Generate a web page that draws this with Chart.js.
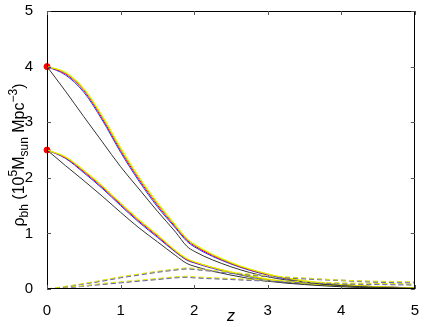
<!DOCTYPE html>
<html>
<head>
<meta charset="utf-8">
<script src="https://cdn.jsdelivr.net/npm/chart.js@4.4.1/dist/chart.umd.min.js"></script>
<style>
    html, body { margin: 0; padding: 0; background: #ffffff; }
    #wrap { width: 425px; height: 327px; position: relative; }
</style>
</head>
<body>
<div id="wrap"><canvas id="rho-chart"></canvas></div>
<script>
// redshift grid the curves are read at
const zs = [0, 0.25, 0.5, 0.75, 1, 1.25, 1.5, 1.75, 1.9, 2, 2.5, 3, 3.5, 4, 4.5, 5];

// upper family (rho = 4 at z = 0)
const upYellow = [4.0, 3.90, 3.61, 3.12, 2.55, 2.02, 1.56, 1.15, 0.91, 0.81, 0.48, 0.27, 0.15, 0.08, 0.04, 0.02];
const upGreen  = [4.0, 3.89, 3.59, 3.10, 2.52, 2.00, 1.54, 1.13, 0.90, 0.80, 0.47, 0.27, 0.14, 0.08, 0.04, 0.02];
const upRed    = [4.0, 3.87, 3.57, 3.07, 2.49, 1.97, 1.51, 1.11, 0.88, 0.78, 0.46, 0.26, 0.14, 0.08, 0.04, 0.02];
const upBlue   = [4.0, 3.85, 3.54, 3.04, 2.46, 1.94, 1.48, 1.09, 0.86, 0.76, 0.45, 0.25, 0.13, 0.07, 0.04, 0.02];
const upBlack  = [4.0, 3.56, 3.10, 2.65, 2.20, 1.80, 1.40, 1.02, 0.77, 0.68, 0.40, 0.22, 0.12, 0.06, 0.03, 0.01];

// lower family (rho = 2.5 at z = 0)
const loYellow = [2.5, 2.38, 2.14, 1.86, 1.55, 1.25, 0.98, 0.69, 0.55, 0.49, 0.31, 0.18, 0.10, 0.05, 0.03, 0.01];
const loGreen  = [2.5, 2.37, 2.13, 1.85, 1.54, 1.24, 0.97, 0.68, 0.54, 0.49, 0.30, 0.17, 0.10, 0.05, 0.03, 0.01];
const loRed    = [2.5, 2.36, 2.11, 1.83, 1.52, 1.22, 0.95, 0.67, 0.53, 0.48, 0.30, 0.17, 0.10, 0.05, 0.03, 0.01];
const loBlue   = [2.5, 2.35, 2.09, 1.81, 1.50, 1.20, 0.93, 0.66, 0.52, 0.47, 0.29, 0.16, 0.09, 0.05, 0.02, 0.01];
const loBlack  = [2.5, 2.22, 1.95, 1.67, 1.38, 1.10, 0.85, 0.60, 0.46, 0.41, 0.25, 0.14, 0.08, 0.04, 0.02, 0.01];

// dashed curves
const dashUpYellow = [0, 0.05, 0.10, 0.16, 0.22, 0.27, 0.32, 0.36, 0.38, 0.37, 0.30, 0.24, 0.20, 0.16, 0.14, 0.13];
const dashUpBlue   = [0, 0.04, 0.09, 0.15, 0.21, 0.26, 0.31, 0.35, 0.37, 0.36, 0.29, 0.23, 0.19, 0.16, 0.13, 0.12];
const dashUpGray   = [0, 0.04, 0.09, 0.14, 0.20, 0.25, 0.30, 0.34, 0.36, 0.35, 0.28, 0.22, 0.18, 0.15, 0.12, 0.11];
const dashLoYellow = [0, 0.03, 0.06, 0.10, 0.13, 0.16, 0.19, 0.22, 0.23, 0.22, 0.19, 0.16, 0.13, 0.11, 0.10, 0.09];
const dashLoBlue   = [0, 0.02, 0.05, 0.09, 0.12, 0.15, 0.18, 0.21, 0.22, 0.21, 0.18, 0.15, 0.12, 0.10, 0.09, 0.08];
const dashLoGray   = [0, 0.02, 0.05, 0.08, 0.11, 0.14, 0.17, 0.20, 0.21, 0.20, 0.17, 0.14, 0.11, 0.09, 0.08, 0.07];

// observed local densities
const pointZ = [0, 0];
const pointRho = [4.0, 2.5];

const xTicks = [0, 1, 2, 3, 4, 5];
const yTicks = [0, 1, 2, 3, 4, 5];

document.addEventListener('DOMContentLoaded', () => {
    const canvas = document.getElementById('rho-chart');
    const toXY = (ys) => zs.map((z, i) => ({ x: z, y: ys[i] }));

    const line = (ys, color, dashed) => ({
        data: toXY(ys),
        borderColor: color,
        borderWidth: 1,
        borderDash: dashed ? [5, 3] : [],
        pointRadius: 0,
        cubicInterpolationMode: 'monotone',
        fill: false
    });

    const datasets = [
        line(dashUpYellow, '#e8e800', true),
        line(dashUpBlue, '#6f6fe0', true),
        line(dashUpGray, '#666666', true),
        line(dashLoYellow, '#e8e800', true),
        line(dashLoBlue, '#6f6fe0', true),
        line(dashLoGray, '#666666', true),
        line(upBlack, '#333333', false),
        line(loBlack, '#333333', false),
        line(upYellow, '#f0f000', false),
        line(upGreen, '#80e000', false),
        line(upRed, '#ff0000', false),
        line(upBlue, '#3030ff', false),
        line(loYellow, '#f0f000', false),
        line(loGreen, '#80e000', false),
        line(loRed, '#ff0000', false),
        line(loBlue, '#3030ff', false),
        {
            type: 'scatter',
            data: pointZ.map((z, i) => ({ x: z, y: pointRho[i] })),
            backgroundColor: '#ff0000',
            borderColor: '#ff0000',
            pointRadius: 3,
            clip: false
        }
    ];

    // frame, inward ticks, axis titles
    const framePlugin = {
        id: 'frame',
        afterDraw(chart) {
            const ctx = chart.ctx;
            const a = chart.chartArea;
            const xs = chart.scales.x, ys = chart.scales.y;
            ctx.save();
            ctx.strokeStyle = '#000000';
            ctx.lineWidth = 1;
            ctx.strokeRect(Math.round(a.left) + 0.5, Math.round(a.top) + 0.5,
                Math.round(a.right - a.left) - 1, Math.round(a.bottom - a.top) - 1);
            ctx.strokeStyle = '#555555';
            ctx.beginPath();
            xTicks.forEach(t => {
                const px = Math.round(xs.getPixelForValue(t)) + 0.5;
                ctx.moveTo(px, a.bottom); ctx.lineTo(px, a.bottom - 4);
                ctx.moveTo(px, a.top); ctx.lineTo(px, a.top + 4);
            });
            yTicks.forEach(t => {
                const py = Math.round(ys.getPixelForValue(t)) + 0.5;
                ctx.moveTo(a.left, py); ctx.lineTo(a.left + 4, py);
                ctx.moveTo(a.right, py); ctx.lineTo(a.right - 4, py);
            });
            ctx.stroke();

            // x title
            ctx.fillStyle = '#000000';
            ctx.font = 'italic 16px "Liberation Sans", Arial, sans-serif';
            ctx.textAlign = 'center';
            ctx.textBaseline = 'alphabetic';
            ctx.fillText('z', (a.left + a.right) / 2, 321);

            // y title with sub/superscripts
            const parts = [
                ['ρ', 'n'], ['bh', 'sub'], [' (10', 'n'], ['5', 'sup'], ['M', 'n'],
                ['sun', 'sub'], [' Mpc', 'n'], ['−3', 'sup'], [')', 'n']
            ];
            const big = '16px "Liberation Sans", Arial, sans-serif';
            const small = '12px "Liberation Sans", Arial, sans-serif';
            let total = 0;
            parts.forEach(([s, k]) => { ctx.font = k === 'n' ? big : small; total += ctx.measureText(s).width; });
            ctx.translate(24, 155);
            ctx.rotate(-Math.PI / 2);
            ctx.textAlign = 'left';
            let x = -total / 2;
            parts.forEach(([s, k]) => {
                ctx.font = k === 'n' ? big : small;
                const dy = k === 'sub' ? 4 : (k === 'sup' ? -7 : 0);
                ctx.fillText(s, x, dy);
                x += ctx.measureText(s).width;
            });
            ctx.restore();
        }
    };

    new Chart(canvas, {
        type: 'line',
        data: { datasets: datasets },
        options: {
            responsive: true,
            maintainAspectRatio: false,
            animation: false,
            layout: { padding: { top: 11, right: 8, left: 0, bottom: 0 } },
            plugins: { legend: { display: false }, tooltip: { enabled: false } },
            scales: {
                x: {
                    type: 'linear',
                    min: 0, max: 5,
                    afterFit: (s) => { s.height = 38; },
                    afterBuildTicks: (s) => { s.ticks = xTicks.map(v => ({ value: v })); },
                    grid: { display: false },
                    border: { display: false },
                    ticks: { color: '#000000', padding: 6, font: { size: 15, lineHeight: 1, family: '"Liberation Sans", Arial, sans-serif' } }
                },
                y: {
                    type: 'linear',
                    min: 0, max: 5,
                    afterFit: (s) => { s.width = 47; s.paddingTop = 0; s.paddingBottom = 0; },
                    afterBuildTicks: (s) => { s.ticks = yTicks.map(v => ({ value: v })); },
                    grid: { display: false },
                    border: { display: false },
                    ticks: { color: '#000000', padding: 6, font: { size: 15, lineHeight: 1, family: '"Liberation Sans", Arial, sans-serif' } }
                }
            }
        },
        plugins: [framePlugin]
    });
});
</script>
</body>
</html>
